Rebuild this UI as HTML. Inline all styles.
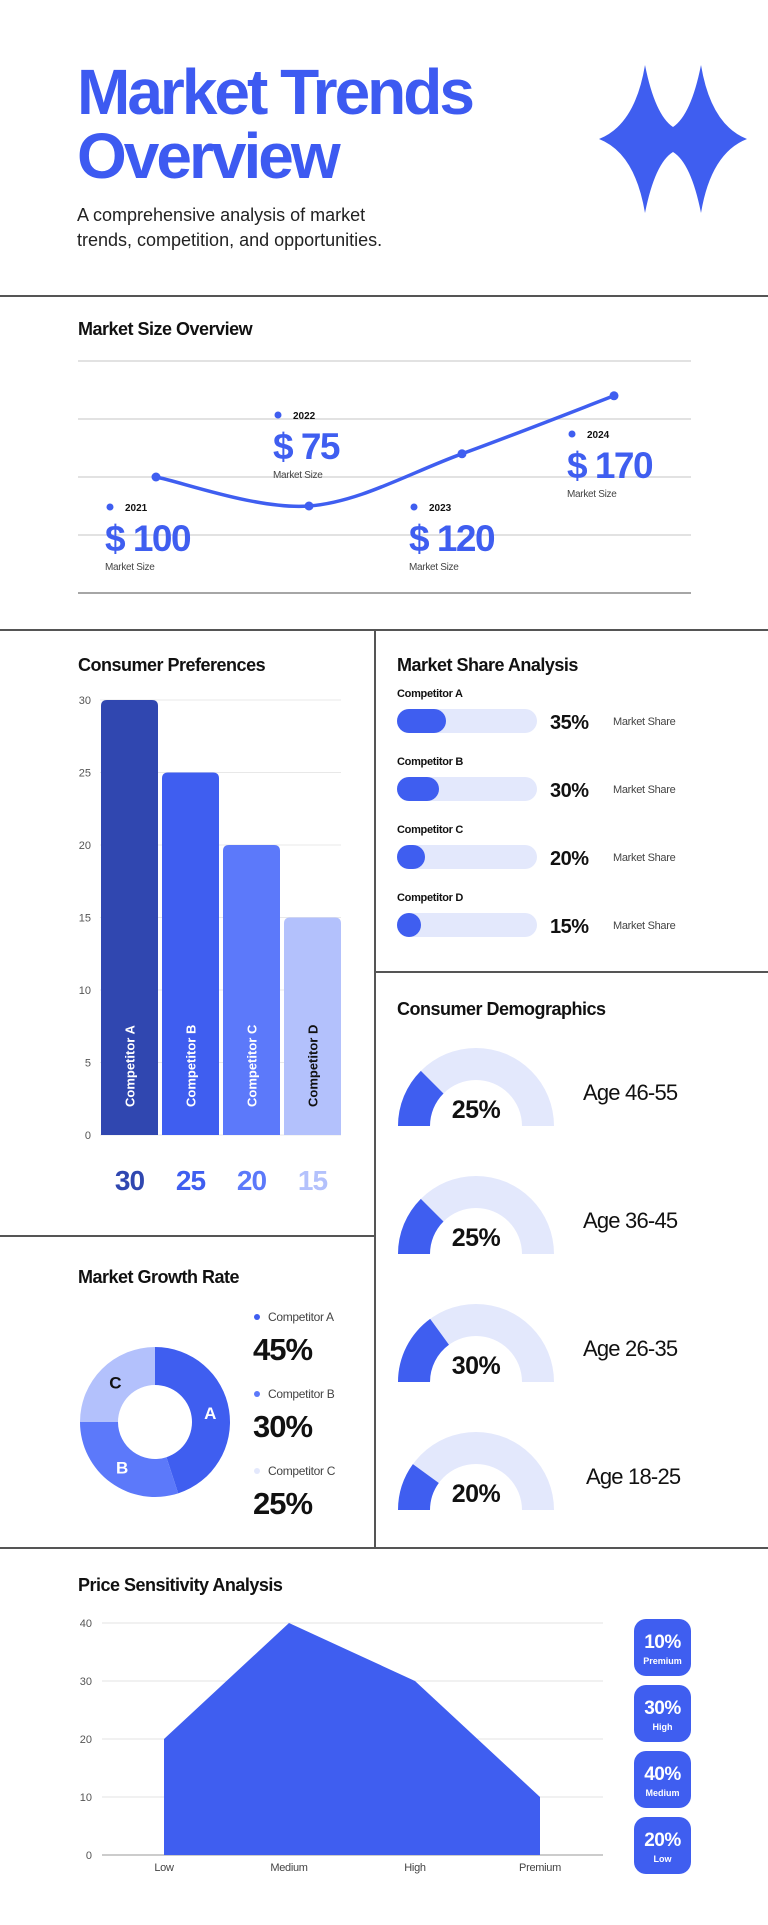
<!DOCTYPE html>
<html><head><meta charset="utf-8"><style>
html,body{margin:0;padding:0;background:#fff;}
body{width:768px;height:1920px;overflow:hidden;font-family:"Liberation Sans",sans-serif;}
svg text{font-family:"Liberation Sans",sans-serif;}
</style></head><body>
<svg id="root" width="768" height="1920" viewBox="0 0 768 1920" xmlns="http://www.w3.org/2000/svg">
<rect width="768" height="1920" fill="#fff"/>
<text x="77" y="114" font-size="64" font-weight="700" fill="#3d5af1" letter-spacing="-3">Market Trends</text>
<text x="77" y="178" font-size="64" font-weight="700" fill="#3d5af1" letter-spacing="-3">Overview</text>
<text font-size="18" fill="#222"><tspan x="77" y="221">A comprehensive analysis of market</tspan><tspan x="77" y="246">trends, competition, and opportunities.</tspan></text>
<path fill="#3f5ef0" d="M645,65 Q655,115 673,127 Q691,115 701,65 Q711,125 747,139 Q711,153 701,213 Q691,163 673,152 Q655,163 645,213 Q635,153 599,139 Q635,125 645,65Z"/>

<g stroke="#555" stroke-width="2">
<line x1="0" y1="296" x2="768" y2="296"/>
<line x1="0" y1="630" x2="768" y2="630"/>
<line x1="375" y1="630" x2="375" y2="1548"/>
<line x1="375" y1="972" x2="768" y2="972"/>
<line x1="0" y1="1236" x2="375" y2="1236"/>
<line x1="0" y1="1548" x2="768" y2="1548"/>
</g>

<text x="78" y="335" font-size="18" font-weight="700" fill="#111" letter-spacing="-0.5">Market Size Overview</text>
<g id="ms"></g>

<text x="78" y="671" font-size="18" font-weight="700" fill="#111" letter-spacing="-0.5">Consumer Preferences</text>
<g id="cp"></g>

<text x="397" y="671" font-size="18" font-weight="700" fill="#111" letter-spacing="-0.5">Market Share Analysis</text>
<g id="msa"></g>

<text x="397" y="1015" font-size="18" font-weight="700" fill="#111" letter-spacing="-0.5">Consumer Demographics</text>
<g id="demo"></g>

<text x="78" y="1283" font-size="18" font-weight="700" fill="#111" letter-spacing="-0.5">Market Growth Rate</text>
<g id="gr"></g>

<text x="78" y="1591" font-size="18" font-weight="700" fill="#111" letter-spacing="-0.5">Price Sensitivity Analysis</text>
<g id="ps"></g>
</svg>
<script>
const NS="http://www.w3.org/2000/svg";
function mk(parent,tag,attrs,txt){const e=document.createElementNS(NS,tag);for(const k in attrs)e.setAttribute(k,attrs[k]);if(txt!==undefined)e.textContent=txt;parent.appendChild(e);return e;}

// ---- Market size data ----
const msYears=["2021","2022","2023","2024"];
const msValues=[100,75,120,170];
const msTicks=[0,50,100,150,200];
// ---- Consumer preferences ----
const cpCats=["Competitor A","Competitor B","Competitor C","Competitor D"];
const cpValues=[30,25,20,15];
const cpTicks=[0,5,10,15,20,25,30];
// ---- Market share ----
const shareCats=["Competitor A","Competitor B","Competitor C","Competitor D"];
const shareValues=[35,30,20,15];
// ---- Demographics ----
const demoCats=["Age 46-55","Age 36-45","Age 26-35","Age 18-25"];
const demoValues=[25,25,30,20];
// ---- Growth rate ----
const grCats=["Competitor A","Competitor B","Competitor C"];
const grShort=["A","B","C"];
const grValues=[45,30,25];
// ---- Price sensitivity ----
const psCats=["Low","Medium","High","Premium"];
const psValues=[20,40,30,10];
const psTicks=[0,10,20,30,40];
const badgeValues=["10%","30%","40%","20%"];
const badgeLabels=["Premium","High","Medium","Low"];

// Market size chart
(function(){
 const g=document.getElementById('ms');
 const y=v=>593-(v/200)*232;
 const xs=[156,309,462,614];
 msTicks.forEach((t,i)=>{
  const l=mk(g,'line',{x1:78,x2:691,y1:y(t),y2:y(t),stroke:i===0?'#888':'#d8d8d8','stroke-width':i===0?1.5:1.5});
  
  
 });
 const pts=msValues.map((v,i)=>[xs[i],y(v)]);
 let d=`M${pts[0][0]},${pts[0][1]}`;
 for(let i=0;i<pts.length-1;i++){
  const p0=pts[Math.max(0,i-1)],p1=pts[i],p2=pts[i+1],p3=pts[Math.min(pts.length-1,i+2)];
  const c1=[p1[0]+(p2[0]-p0[0])/6,p1[1]+(p2[1]-p0[1])/6];
  const c2=[p2[0]-(p3[0]-p1[0])/6,p2[1]-(p3[1]-p1[1])/6];
  d+=` C${c1[0]},${c1[1]} ${c2[0]},${c2[1]} ${p2[0]},${p2[1]}`;
 }
 const ln=mk(g,'path',{d:d,fill:'none',stroke:'#3f5ef0','stroke-width':3.5,'stroke-linecap':'round'});
 
 
 pts.forEach(p=>{
  const c=mk(g,'circle',{cx:p[0],cy:p[1],r:4.5,fill:'#3f5ef0'});
  
  
 });
 const lab=[[105,507],[273,415],[409,507],[567,434]];
 msYears.forEach((yr,i)=>{
  const [lx,ly]=lab[i];
  const grp=mk(g,'g',{});
  
  
  mk(grp,'circle',{cx:lx+5,cy:ly,r:3.5,fill:'#3f5ef0'});
  mk(grp,'text',{x:lx+20,y:ly+4,'font-size':10,'font-weight':700,fill:'#111'},yr);
  mk(grp,'text',{x:lx,y:ly+44,'font-size':37,'font-weight':700,fill:'#3f5ef0','letter-spacing':-1.5},'$ '+msValues[i]);
  mk(grp,'text',{x:lx,y:ly+63,'font-size':10,fill:'#444','letter-spacing':-0.3},'Market Size');
 });
})();

// Consumer preferences bars
(function(){
 const g=document.getElementById('cp');
 const y=v=>1135-(v/30)*435;
 const colors=['#3047b0','#3f5ef0','#5c79fa','#b3c1fc'];
 cpTicks.forEach(t=>{
  const l=mk(g,'line',{x1:100,x2:341,y1:y(t),y2:y(t),stroke:'#e8e8e8','stroke-width':1});
  
  
  const tx=mk(g,'text',{x:91,y:y(t)+4,'font-size':11,fill:'#555','text-anchor':'end'},String(t));
  
  
 });
 cpValues.forEach((v,i)=>{
  const x=101+i*61,w=57,top=y(v),h=1135-top,r=6;
  const b=mk(g,'path',{d:`M${x},1135 V${top+r} Q${x},${top} ${x+r},${top} H${x+w-r} Q${x+w},${top} ${x+w},${top+r} V1135 Z`,fill:colors[i]});
  
  
  const cx=x+w/2;
  const t=mk(g,'text',{x:0,y:0,'font-size':13,'font-weight':700,fill:i===3?'#111':'#fff',transform:`translate(${cx+5},1107) rotate(-90)`},cpCats[i]);
  
  
  const vt=mk(g,'text',{x:cx,y:1190,'font-size':28,'font-weight':700,fill:colors[i],'text-anchor':'middle','letter-spacing':-1},String(v));
  
  
 });
})();

// Market share
(function(){
 const g=document.getElementById('msa');
 shareValues.forEach((v,i)=>{
  const by=697+i*68;
  const grp=mk(g,'g',{});
  
  
  mk(grp,'text',{x:397,y:by,'font-size':11,'font-weight':700,fill:'#111','letter-spacing':-0.3},shareCats[i]);
  mk(grp,'rect',{x:397,y:by+12,width:140,height:24,rx:12,fill:'#e3e8fc'});
  const fw=Math.max(v/100*140,24);
  mk(grp,'rect',{x:397,y:by+12,width:fw,height:24,rx:12,fill:'#3f5ef0'});
  mk(grp,'text',{x:550,y:by+32,'font-size':20,'font-weight':700,fill:'#111','letter-spacing':-0.5},v+'%');
  mk(grp,'text',{x:613,y:by+28,'font-size':11,fill:'#444','letter-spacing':-0.3},'Market Share');
 });
})();

// Demographics gauges
(function(){
 const g=document.getElementById('demo');
 const R=78,r=46,cx=476;
 function sector(cy,a0,a1){
  const p=(rad,a)=>[cx+rad*Math.cos(a),cy-rad*Math.sin(a)];
  const o0=p(R,a0),o1=p(R,a1),i1=p(r,a1),i0=p(r,a0);
  return `M${o0[0]},${o0[1]} A${R},${R} 0 0 1 ${o1[0]},${o1[1]} L${i1[0]},${i1[1]} A${r},${r} 0 0 0 ${i0[0]},${i0[1]} Z`;
 }
 demoValues.forEach((v,i)=>{
  const cy=1126+i*128;
  const grp=mk(g,'g',{});
  
  
  mk(grp,'path',{d:sector(cy,Math.PI,0.0001),fill:'#e3e8fc'});
  mk(grp,'path',{d:sector(cy,Math.PI,Math.PI-v/100*Math.PI),fill:'#3f5ef0'});
  mk(grp,'text',{x:cx,y:cy-8,'font-size':25,'font-weight':700,fill:'#111','text-anchor':'middle','letter-spacing':-0.5},v+'%');
  mk(grp,'text',{x:i===3?586:583,y:cy-26,'font-size':22,fill:'#111','letter-spacing':-0.8},demoCats[i]);
 });
})();

// Growth donut
(function(){
 const g=document.getElementById('gr');
 const cx=155,cy=1422,R=75,r=37;
 const colors=['#3f5ef0','#5c79fa','#b3c1fc'];
 const dots=['#3f5ef0','#5c79fa','#e3e8fc'];
 const total=grValues.reduce((a,b)=>a+b,0);
 let a=0;
 const p=(rad,t)=>[cx+rad*Math.sin(t),cy-rad*Math.cos(t)];
 grValues.forEach((v,i)=>{
  const a1=a+v/total*2*Math.PI,large=(a1-a)>Math.PI?1:0;
  const o0=p(R,a),o1=p(R,a1),i1=p(r,a1),i0=p(r,a);
  const s=mk(g,'path',{d:`M${o0[0]},${o0[1]} A${R},${R} 0 ${large} 1 ${o1[0]},${o1[1]} L${i1[0]},${i1[1]} A${r},${r} 0 ${large} 0 ${i0[0]},${i0[1]} Z`,fill:colors[i]});
  
  
  const m=(a+a1)/2,lp=p((R+r)/2,m);
  const t=mk(g,'text',{x:lp[0],y:lp[1]+6,'font-size':17,'font-weight':700,fill:i===2?'#111':'#fff','text-anchor':'middle'},grShort[i]);
  
  
  a=a1;
  const ly=1317+i*77;
  const lg=mk(g,'g',{});
  
  
  mk(lg,'circle',{cx:257,cy:ly,r:3,fill:dots[i]});
  mk(lg,'text',{x:268,y:ly+4,'font-size':12,fill:'#444','letter-spacing':-0.3},grCats[i]);
  mk(lg,'text',{x:253,y:ly+43,'font-size':31,'font-weight':700,fill:'#111','letter-spacing':-1},v+'%');
 });
})();

// Price sensitivity
(function(){
 const g=document.getElementById('ps');
 const y=v=>1855-(v/40)*232;
 const xs=[164,289,415,540];
 psTicks.forEach((t,i)=>{
  const l=mk(g,'line',{x1:102,x2:603,y1:y(t),y2:y(t),stroke:i===0?'#999':'#e3e3e3','stroke-width':1});
  
  
  const tx=mk(g,'text',{x:92,y:y(t)+4,'font-size':11,fill:'#555','text-anchor':'end'},String(t));
  
  
 });
 let d=`M${xs[0]},${y(0)}`;
 psValues.forEach((v,i)=>{d+=` L${xs[i]},${y(v)}`;});
 d+=` L${xs[xs.length-1]},${y(0)} Z`;
 const ar=mk(g,'path',{d:d,fill:'#3f5ef0'});
 
 
 psCats.forEach((c,i)=>{
  const t=mk(g,'text',{x:xs[i],y:1871,'font-size':11,fill:'#444','text-anchor':'middle','letter-spacing':-0.3},c);
  
  
 });
 badgeValues.forEach((b,i)=>{
  const by=1619+i*66;
  const bg=mk(g,'g',{});
  
  
  mk(bg,'rect',{x:634,y:by,width:57,height:57,rx:12,fill:'#3f5ef0'});
  mk(bg,'text',{x:662.5,y:by+29,'font-size':19,'font-weight':700,fill:'#fff','text-anchor':'middle','letter-spacing':-0.5},b);
  mk(bg,'text',{x:662.5,y:by+45,'font-size':9,'font-weight':700,fill:'#fff','text-anchor':'middle'},badgeLabels[i]);
 });
})();
</script>
</body></html>
